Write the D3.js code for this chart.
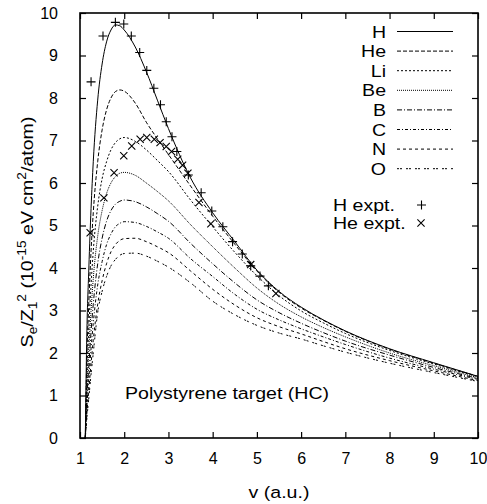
<!DOCTYPE html>
<html>
<head>
<meta charset="utf-8">
<script src="https://cdn.jsdelivr.net/npm/d3@7"></script>
<style>
  html, body { margin: 0; padding: 0; background: #fff; }
  text { font-family: "Liberation Sans", Arial, Helvetica, sans-serif; fill: #000; }
</style>
</head>
<body>
<svg id="chart" width="487" height="504"></svg>
<script>
// ---------- data ----------
const velocity = [1.12, 1.15, 1.2, 1.25, 1.3, 1.4, 1.5, 1.6, 1.7, 1.8, 1.9, 2.0, 2.25, 2.5, 2.75, 3.0, 3.5, 4.0, 4.5, 5.0, 5.5, 6.0, 6.5, 7.0, 8.0, 9.0, 10];
const seriesNames = ["H", "He", "Li", "Be", "B", "C", "N", "O"];
const sH  = [0,2.2,4.0,5.4,6.5,7.95,8.8,9.32,9.6,9.72,9.7,9.6,9.2,8.62,7.95,7.28,6.12,5.3,4.62,3.95,3.45,3.08,2.78,2.52,2.1,1.77,1.45];
const sHe = [0,1.7,3.2,4.4,5.3,6.5,7.25,7.72,8.0,8.15,8.19,8.16,7.88,7.43,7.04,6.67,5.93,5.22,4.56,3.93,3.43,3.06,2.77,2.51,2.09,1.76,1.45];
const sLi = [0,1.3,2.6,3.6,4.4,5.45,6.1,6.5,6.78,6.95,7.04,7.07,6.98,6.78,6.53,6.27,5.6,4.97,4.37,3.82,3.35,2.99,2.71,2.46,2.06,1.74,1.44];
const sBe = [0,1.0,2.1,3.0,3.75,4.75,5.35,5.75,6.0,6.15,6.23,6.25,6.18,6.0,5.8,5.58,5.02,4.5,4.0,3.53,3.15,2.85,2.6,2.38,2.0,1.7,1.42];
const sB  = [0,0.8,1.7,2.5,3.15,4.1,4.7,5.1,5.35,5.5,5.57,5.6,5.56,5.44,5.28,5.1,4.58,4.1,3.65,3.25,2.95,2.7,2.48,2.28,1.95,1.66,1.4];
const sC  = [0,0.65,1.4,2.1,2.7,3.6,4.15,4.55,4.8,4.97,5.05,5.09,5.07,4.98,4.85,4.7,4.22,3.8,3.38,3.03,2.78,2.57,2.38,2.2,1.88,1.62,1.38];
const sN  = [0,0.5,1.15,1.75,2.3,3.15,3.7,4.1,4.38,4.55,4.65,4.69,4.7,4.62,4.5,4.36,3.93,3.5,3.13,2.83,2.62,2.45,2.27,2.1,1.82,1.58,1.35];
const sO  = [0,0.4,0.95,1.5,2.0,2.95,3.45,3.8,4.05,4.2,4.3,4.34,4.35,4.28,4.16,4.02,3.65,3.22,2.9,2.65,2.47,2.33,2.17,2.02,1.76,1.54,1.33];

const hExptV  = [1.25,1.52,1.80,1.99,2.16,2.35,2.51,2.67,2.82,2.95,3.08,3.19,3.45,3.74,3.98,4.23,4.45,4.67,4.86,5.07,5.26];
const hExptS  = [8.38,9.46,9.78,9.74,9.46,9.07,8.65,8.23,7.84,7.44,7.09,6.74,6.19,5.77,5.34,4.97,4.62,4.33,4.05,3.81,3.58];
const heExptV = [1.23,1.54,1.77,1.99,2.17,2.36,2.51,2.68,2.81,2.95,3.07,3.21,3.32,3.44,3.69,3.96,4.86,5.43];
const heExptS = [4.83,5.65,6.24,6.64,6.87,7.03,7.07,7.03,6.95,6.86,6.74,6.56,6.42,6.23,5.54,5.04,4.08,3.40];

const xTicks = [1,2,3,4,5,6,7,8,9,10];
const yTicks = [0,1,2,3,4,5,6,7,8,9,10];

// ---------- styling ----------
const dashes = ["none", "4,2", "2,2", "1,1", "5,2,1,2", "3,2,1,2", "3,3", "2,1,2,4"];
const FS = 17, SX = 1.15, TFS = 16;
const L = 80, R = 478, T = 13, B = 438;

const svg = d3.select("#chart");
const x = d3.scaleLinear().domain([1, 10]).range([L, R]);
const y = d3.scaleLinear().domain([0, 10]).range([B, T]);

svg.append("defs").append("clipPath").attr("id", "clip")
  .append("rect").attr("x", L).attr("y", T).attr("width", R - L).attr("height", B - T);

// ticks (inside, mirrored)
function tickAxis(axis, tr) {
  const g = svg.append("g").attr("transform", tr).call(axis);
  g.select(".domain").remove();
  g.selectAll("line").attr("stroke", "#000").attr("stroke-width", 1.2);
  g.selectAll("text").attr("font-size", TFS).attr("font-family", "Liberation Sans, Arial, sans-serif").attr("fill", "#000");
  return g;
}
tickAxis(d3.axisBottom(x).tickValues(xTicks).tickSizeInner(-6).tickSizeOuter(0).tickPadding(15).tickFormat(d3.format("d")), `translate(0,${B})`);
tickAxis(d3.axisTop(x).tickValues(xTicks).tickSizeInner(-6).tickSizeOuter(0).tickFormat(""), `translate(0,${T})`);
tickAxis(d3.axisLeft(y).tickValues(yTicks).tickSizeInner(-6).tickSizeOuter(0).tickPadding(22).tickFormat(d3.format("d")), `translate(${L},0)`);
tickAxis(d3.axisRight(y).tickValues(yTicks).tickSizeInner(-6).tickSizeOuter(0).tickFormat(""), `translate(${R},0)`);

// frame
svg.append("rect").attr("x", L).attr("y", T).attr("width", R - L).attr("height", B - T)
  .attr("fill", "none").attr("stroke", "#000").attr("stroke-width", 1.6);

// curves
const allSeries = [sH, sHe, sLi, sBe, sB, sC, sN, sO];
const line = d3.line().x(d => x(d[0])).y(d => y(d[1])).curve(d3.curveMonotoneX);
const gc = svg.append("g").attr("clip-path", "url(#clip)");
allSeries.forEach((s, i) => {
  gc.append("path")
    .datum(velocity.map((v, k) => [v, s[k]]))
    .attr("d", line)
    .attr("fill", "none")
    .attr("stroke", "#000")
    .attr("stroke-width", 1)
    .attr("stroke-dasharray", dashes[i]);
});

// experimental points
function plus(g, cx, cy, r) {
  g.append("path").attr("d", `M${cx - r},${cy}H${cx + r}M${cx},${cy - r}V${cy + r}`)
    .attr("stroke", "#000").attr("stroke-width", 1.1).attr("fill", "none");
}
function cross(g, cx, cy, r) {
  g.append("path").attr("d", `M${cx - r},${cy - r}L${cx + r},${cy + r}M${cx - r},${cy + r}L${cx + r},${cy - r}`)
    .attr("stroke", "#000").attr("stroke-width", 1.1).attr("fill", "none");
}
const gp = svg.append("g");
hExptV.forEach((v, i) => plus(gp, x(v), y(hExptS[i]), 4.5));
heExptV.forEach((v, i) => cross(gp, x(v), y(heExptS[i]), 3.6));

// text helper
function txt(px, py, str, anchor, size) {
  return svg.append("text")
    .attr("transform", `translate(${px},${py}) scale(${SX},1)`)
    .attr("text-anchor", anchor || "start")
    .attr("font-size", size || FS)
    .text(str);
}

// legend
const legY0 = 37.5, legDy = 19.6;
seriesNames.forEach((n, i) => {
  const yy = legY0 + i * legDy;
  txt(386, yy, n, "end");
  svg.append("line").attr("x1", 397).attr("x2", 453).attr("y1", yy - 6).attr("y2", yy - 6)
    .attr("stroke", "#000").attr("stroke-width", 1).attr("stroke-dasharray", dashes[i]);
});
txt(333, 211, "H  expt.", "start");
plus(svg, 421.5, 205, 4.5);
txt(333, 229, "He expt.", "start");
cross(svg, 421, 223, 3.6);

// annotation
txt(125, 399, "Polystyrene target (HC)", "start");

// axis titles
txt(279, 498, "v (a.u.)", "middle");
const yl = svg.append("text")
  .attr("transform", `translate(33,232) rotate(-90) scale(${SX},1)`)
  .attr("text-anchor", "middle")
  .attr("font-size", FS);
yl.append("tspan").text("S");
yl.append("tspan").attr("font-size", 12).attr("dy", 4).text("e");
yl.append("tspan").attr("dy", -4).text("/Z");
yl.append("tspan").attr("font-size", 12).attr("dy", 4).text("1");
yl.append("tspan").attr("font-size", 12).attr("dy", -11).text("2");
yl.append("tspan").attr("dy", 7).text(" (10");
yl.append("tspan").attr("font-size", 12).attr("dy", -7).text("-15");
yl.append("tspan").attr("dy", 7).text(" eV cm");
yl.append("tspan").attr("font-size", 12).attr("dy", -7).text("2");
yl.append("tspan").attr("dy", 7).text("/atom)");
</script>
</body>
</html>
